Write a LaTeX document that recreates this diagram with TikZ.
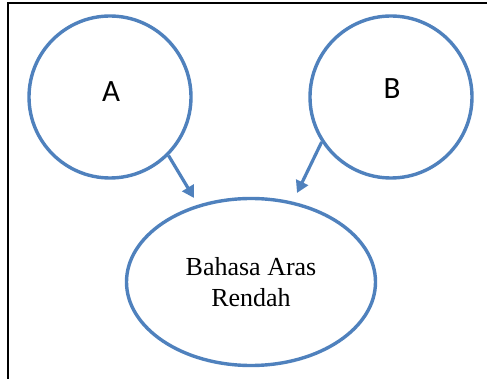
\documentclass[tikz,border=0pt]{standalone}
\usepackage{fontspec}
\setmainfont{Liberation Serif}
\newfontfamily\labelfont{Carlito}
\usetikzlibrary{arrows.meta,shapes.geometric}
\definecolor{ringblue}{RGB}{79,129,189}
\tikzset{
  ring/.style={circle, draw=ringblue, line width=3.4pt, fill=white, minimum size=162pt, inner sep=0pt},
  oval/.style={ellipse, draw=ringblue, line width=3.4pt, fill=white, minimum width=249pt, minimum height=167pt, inner sep=0pt, align=center, font=\fontsize{26}{31}\selectfont},
  letter/.style={font=\labelfont\fontsize{31}{31}\selectfont, inner sep=0pt},
  link/.style={draw=ringblue, line width=3.2pt, -{Triangle[length=12pt,width=13pt]}},
  frame/.style={draw=black, line width=2pt}
}
\begin{document}
\begin{tikzpicture}[x=1pt,y=-1pt]
\useasboundingbox (0,0) rectangle (487,379);
\draw[frame] (8,380) -- (8,3) -- (488,3);
\node[ring] (A) at (110,97) {};
\node[ring] (B) at (391,97) {};
\node[oval] (C) at (251,282) {Bahasa Aras\\Rendah};
\node[letter] (At) at (111,92) {A};
\node[letter] (Bt) at (392,89) {B};
\coordinate (ea) at (194,198);
\coordinate (eb) at (297,193);
\draw[link] (A.-45) -- (ea);
\draw[link] (B.213) -- (eb);
\end{tikzpicture}
\end{document}
